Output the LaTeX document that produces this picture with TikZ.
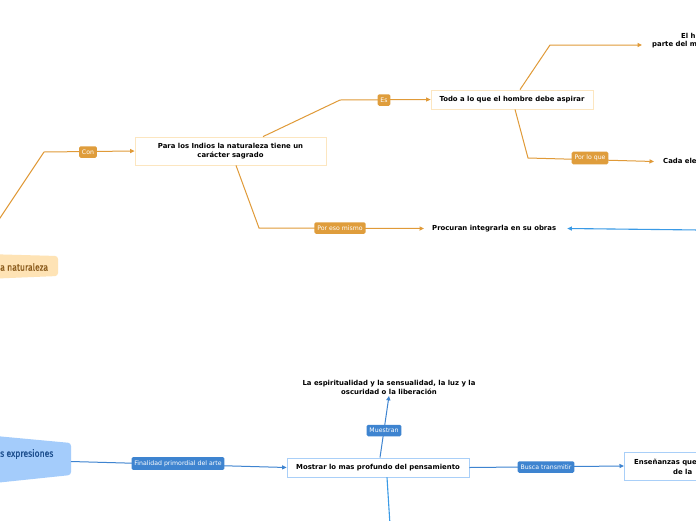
\documentclass[tikz,border=0pt]{standalone}
\usepackage{fontspec}
\setmainfont{DejaVu Sans}
\newfontfamily\topicfont[FakeStretch=0.86,FakeBold=0.8]{Fira Sans}
\usetikzlibrary{arrows.meta}
\definecolor{org}{HTML}{E09A38}
\definecolor{orgfill}{HTML}{DF9D3C}
\definecolor{orgborder}{HTML}{FCE6C0}
\definecolor{peach}{HTML}{FEE3B5}
\definecolor{topicbrown}{HTML}{8A5A1A}
\definecolor{blu}{HTML}{3E84D0}
\definecolor{blulight}{HTML}{A9CFF8}
\definecolor{bluefill}{HTML}{A4CCFB}
\definecolor{bluedark}{HTML}{1D4F8E}
\definecolor{sky}{HTML}{3A9AE6}
\tikzset{
  arr/.style={-{Triangle[length=4.5pt,width=4pt]}},
  oline/.style={draw=org, line width=1pt},
  bline/.style={draw=blu, line width=1pt},
  sline/.style={draw=sky, line width=1.1pt},
  lbl/.style={text=white, rounded corners=1.5pt, font=\fontsize{6.2}{7}\selectfont, inner xsep=2.8pt, minimum height=11.5pt},
  olabel/.style={lbl, fill=orgfill},
  blabel/.style={lbl, fill=blu},
  txt/.style={font=\fontsize{6.9}{9}\selectfont\bfseries, align=center},
  obox/.style={txt, draw=orgborder, fill=white, line width=0.8pt},
  bbox/.style={txt, draw=blulight, fill=white, line width=0.8pt},
  edge/.style={txt, inner sep=0pt, anchor=west}
}
\begin{document}
\begin{tikzpicture}[x=1pt,y=-1pt]
\useasboundingbox (0,0) rectangle (696,520);
\clip (0,0) rectangle (696,520);
\fill[white] (0,0) rectangle (696,520);

% ---------- orange part ----------
\draw[fill=peach, draw=none, rounded corners=3pt] (-15,254) -- (58,256) -- (58,276) -- (-15,279) -- cycle;
\node[font=\topicfont\fontsize{10}{10}\selectfont, text=topicbrown, inner sep=0pt, anchor=west] (nat) at (0,267) {a naturaleza};

\node[obox, minimum width=191pt, minimum height=28pt] (para) at (230.5,151) {Para los Indios la naturaleza tiene un\\carácter sagrado};
\node[obox, minimum width=162pt, minimum height=19pt] (todo) at (512,99.5) {Todo a lo que el hombre debe aspirar};
\node[edge] (proc) at (432,228.5) {Procuran integrarla en su obras};
\node[edge] (elh1) at (681,35.5) {El h};
\node[edge] (elh2) at (652,44.5) {parte del m};
\node[edge] (cada) at (663,160.5) {Cada ele};

\coordinate (c0) at (-10,233);
\coordinate (c1) at (44,152);
\coordinate (c2) at (340,100);
\coordinate (c3) at (259,228);
\coordinate (c4) at (550,45);
\coordinate (c5) at (528,158);
\coordinate (r1) at (700,230);

\draw[oline, arr] (c0) -- (c1) -- (para.west);
\draw[oline, arr] ([xshift=32.5pt]para.north) -- (c2) -- (todo.west);
\draw[oline, arr] ([xshift=5.5pt]para.south) -- (c3) -- ([xshift=-8pt]proc.west);
\draw[oline, arr] ([xshift=8pt]todo.north) -- (c4) -- ([xshift=-10pt,yshift=-0.5pt]elh2.west);
\draw[oline, arr] ([xshift=3pt]todo.south) -- (c5) -- ([xshift=-9pt,yshift=-1pt]cada.west);
\draw[sline, arr] (r1) -- ([xshift=11pt]proc.east);

\node[olabel] (lcon) at (88,152) {Con};
\node[olabel] (les) at (384,100) {Es};
\node[olabel] (leso) at (340,228) {Por eso mismo};
\node[olabel] (lque) at (590,158) {Por lo que};

% ---------- blue part ----------
\draw[fill=bluefill, draw=none, rounded corners=3pt] (-15,435) -- (71,443) -- (71,475) -- (-15,484) -- cycle;
\node[font=\topicfont\fontsize{10}{10}\selectfont, text=bluedark, inner sep=0pt, anchor=west] (expr) at (0,454) {s expresiones};

\node[bbox, minimum width=182pt, minimum height=19pt] (most) at (378,467.5) {Mostrar lo mas profundo del pensamiento};
\node[txt, inner sep=1pt] (esp) at (389,387.5) {La espiritualidad y la sensualidad, la luz y la\\oscuridad o la liberación};
\node[bbox, minimum width=150pt, minimum height=28pt, anchor=west] (ens) at (624,466) {};
\node[edge] (ens1) at (634,462.5) {Enseñanzas que};
\node[edge] (ens2) at (673,471.5) {de la};
\coordinate (b0) at (71,461.5);
\coordinate (bend) at (390,525);

\draw[bline, arr] (b0) -- (most.west);
\draw[bline, arr] ([xshift=2pt]most.north) -- (esp.south);
\draw[bline, arr] (most.east) -- (ens.west);
\draw[sline] ([xshift=9pt]most.south) -- (bend);

\node[blabel] (lfin) at (178,463.5) {Finalidad primordial del arte};
\node[blabel] (lmue) at (384,430.5) {Muestran};
\node[blabel] (lbus) at (546,467) {Busca transmitir};
\end{tikzpicture}
\end{document}
